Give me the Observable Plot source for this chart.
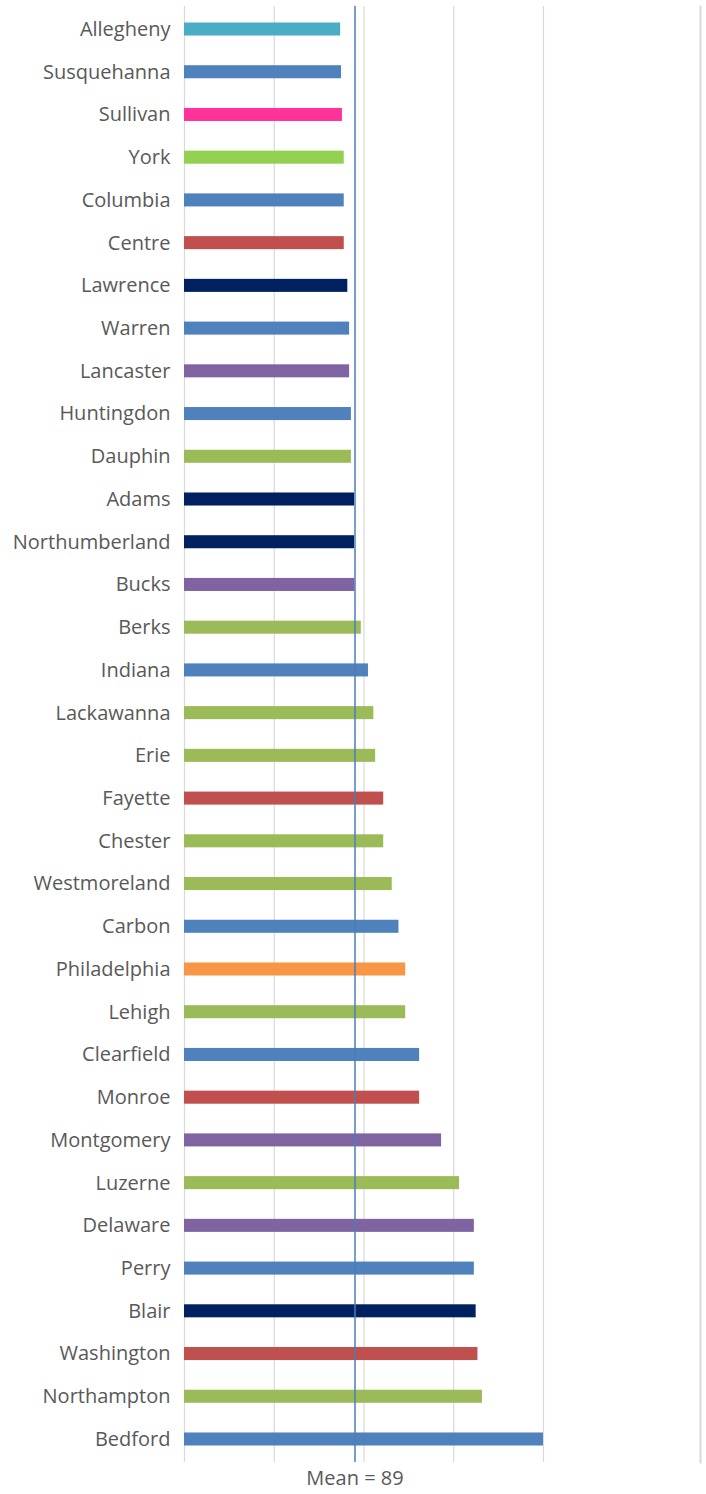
<!DOCTYPE html>
<html>
<head>
<meta charset="utf-8">
<script src="https://cdn.jsdelivr.net/npm/d3@7"></script>
<script src="https://cdn.jsdelivr.net/npm/@observablehq/plot@0.6"></script>
<style>
  html, body { margin: 0; padding: 0; background: #ffffff; }
  #chart { width: 706px; }
</style>
</head>
<body>
<div id="chart"></div>
<script>
const counties = ["Allegheny","Susquehanna","Sullivan","York","Columbia","Centre","Lawrence","Warren","Lancaster","Huntingdon","Dauphin","Adams","Northumberland","Bucks","Berks","Indiana","Lackawanna","Erie","Fayette","Chester","Westmoreland","Carbon","Philadelphia","Lehigh","Clearfield","Monroe","Montgomery","Luzerne","Delaware","Perry","Blair","Washington","Northampton","Bedford"];
const values = [87.4,87.5,87.6,87.8,87.8,87.8,88.2,88.4,88.4,88.6,88.6,88.95,88.95,89.0,89.7,90.5,91.1,91.3,92.2,92.2,93.15,93.9,94.65,94.65,96.2,96.2,98.65,100.65,102.3,102.3,102.5,102.7,103.2,110.0];
const barColors = ["#4BACC6","#4F81BD","#FF3399","#92D050","#4F81BD","#C0504D","#002060","#4F81BD","#8064A2","#4F81BD","#9BBB59","#002060","#002060","#8064A2","#9BBB59","#4F81BD","#9BBB59","#9BBB59","#C0504D","#9BBB59","#9BBB59","#4F81BD","#F79646","#9BBB59","#4F81BD","#C0504D","#8064A2","#9BBB59","#8064A2","#4F81BD","#002060","#C0504D","#9BBB59","#4F81BD"];
const gridTicks = [70, 80, 90, 100, 110];
const axisMin = 70;
const axisMax = 127.5;
const meanValue = 89;

const data = counties.map((c, i) => ({county: c, value: values[i]}));

const chart = Plot.plot({
  width: 706,
  height: 1494,
  marginTop: 6,
  marginBottom: 32,
  marginLeft: 184,
  marginRight: 6,
  style: {fontFamily: "'Open Sans', sans-serif", color: "#595959", background: "#ffffff"},
  x: {domain: [axisMin, axisMax], axis: null},
  y: {domain: counties, padding: 0.077, round: false, label: null},
  color: {domain: counties, range: barColors},
  marks: [
    Plot.ruleX(gridTicks, {stroke: "#d9d9d9", strokeWidth: 1.2}),
    Plot.frame({anchor: "right", stroke: "#d9d9d9", strokeWidth: 2}),
    Plot.barX(data, {y: "county", x1: axisMin, x2: "value", fill: "county", insetTop: 13.2, insetBottom: 13.2}),
    Plot.ruleX([meanValue], {stroke: "#4a7ebb", strokeOpacity: 0.75, strokeWidth: 2}),
    Plot.axisY({tickSize: 0, tickPadding: 14, fontSize: 20, label: null}),
    Plot.text([meanValue], {x: d => d, frameAnchor: "bottom", dy: 22, text: d => `Mean = ${d}`, fontSize: 20, fill: "#595959"})
  ]
});
document.getElementById("chart").appendChild(chart);
</script>
</body>
</html>
